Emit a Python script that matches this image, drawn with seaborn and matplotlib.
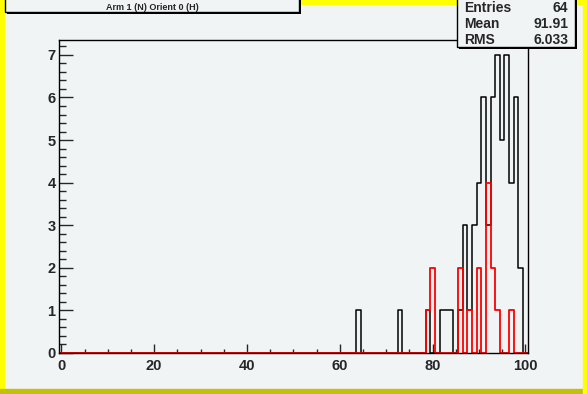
import numpy as np
import pandas as pd
import matplotlib
matplotlib.use("Agg")
import matplotlib.pyplot as plt
from matplotlib.patches import Rectangle
from matplotlib.ticker import MultipleLocator
import seaborn as sns

# bin contents (bins of width 1 centred on integers)
black_x = [64, 73, 79, 82, 83, 84, 86, 87, 88, 89, 90, 91, 92, 93, 94, 95, 96, 97, 98, 99]
black_n = [1, 1, 1, 1, 1, 1, 1, 3, 1, 3, 4, 6, 3, 6, 7, 5, 7, 4, 6, 2]
red_x = [79, 80, 86, 88, 90, 92, 93, 94, 97]
red_n = [1, 2, 2, 1, 2, 4, 2, 1, 1]

title = "Arm 1 (N) Orient 0 (H)"
stat_names = ["Entries", "Mean", "RMS"]
stat_vals = ["64", "91.91", "6.033"]
xticks = [0, 20, 40, 60, 80, 100]
yticks = [0, 1, 2, 3, 4, 5, 6, 7]

sns.set_style("ticks")
plt.rcParams["font.family"] = ["Liberation Sans", "DejaVu Sans"]
plt.rcParams["font.weight"] = "bold"

W, H = 587, 394
bg = "#f1f4f5"
fig = plt.figure(figsize=(W / 100, H / 100), dpi=100, facecolor=bg)


def fx(px):
    return px / W


def fy(py):
    return 1 - py / H


ax = fig.add_axes([fx(59), fy(353), fx(527.7) - fx(59), fy(40) - fy(353)])
ax.set_facecolor(bg)

blk = pd.DataFrame({"x": black_x, "n": black_n})
red = pd.DataFrame({"x": red_x, "n": red_n})
sns.histplot(data=blk, x="x", weights="n", binwidth=1, binrange=(-0.5, 100.5),
             element="step", fill=False, color="black", linewidth=1.1, ax=ax)
sns.histplot(data=red, x="x", weights="n", binwidth=1, binrange=(-0.5, 100.5),
             element="step", fill=False, color="#ff0000", linewidth=1.3, ax=ax)

ax.set_xlim(-0.5, 100.5)
ax.set_ylim(0, 7.35)
ax.set_xlabel("")
ax.set_ylabel("")
ax.set_xticks(xticks)
ax.set_yticks(yticks)
ax.xaxis.set_minor_locator(MultipleLocator(5))
ax.yaxis.set_minor_locator(MultipleLocator(0.2))
ax.tick_params(axis="x", which="major", direction="in", length=6.5, width=1, pad=4.5, labelsize=10.5)
ax.tick_params(axis="x", which="minor", direction="in", length=3, width=1)
ax.tick_params(axis="y", which="major", direction="in", length=10, width=1, pad=2.5, labelsize=10.5)
ax.tick_params(axis="y", which="minor", direction="in", length=5, width=1)
for lab in ax.get_xticklabels() + ax.get_yticklabels():
    lab.set_fontweight("bold")
for s in ax.spines.values():
    s.set_linewidth(1.0)
    s.set_color("black")

# canvas border
bw = 4
fig.patches.append(Rectangle((0, 1 - bw / H), 1, bw / H, transform=fig.transFigure,
                             color="#ffff00", zorder=0))
fig.patches.append(Rectangle((0, 0), bw / W, 1, transform=fig.transFigure,
                             color="#ffff00", zorder=0))
fig.patches.append(Rectangle((0, 0), 1, 5 / H, transform=fig.transFigure,
                             color="#c2c200", zorder=0))
fig.patches.append(Rectangle((1 - bw / W, 0), bw / W, 1, transform=fig.transFigure,
                             color="#ffff00", zorder=0))


def box(x0, y0, x1, y1):
    # shadow then box
    fig.patches.append(Rectangle((fx(x0 + 2), fy(y1 + 2)), fx(x1) - fx(x0), fy(y0) - fy(y1),
                                 transform=fig.transFigure, facecolor="black",
                                 edgecolor="none", zorder=5))
    fig.patches.append(Rectangle((fx(x0), fy(y1)), fx(x1) - fx(x0), fy(y0) - fy(y1),
                                 transform=fig.transFigure, facecolor=bg,
                                 edgecolor="black", linewidth=1.0, zorder=6))


box(5, -3, 299, 12)
fig.text(fx(152), fy(7), title, ha="center", va="center", fontsize=6.5,
         fontweight="bold", zorder=7)

box(457, -3, 575, 47)
for i, (nm, v) in enumerate(zip(stat_names, stat_vals)):
    yy = fy(8.5 + i * 16)
    fig.text(fx(464), yy, nm, ha="left", va="center", fontsize=10, fontweight="bold", zorder=7)
    fig.text(fx(568), yy, v, ha="right", va="center", fontsize=10, fontweight="bold", zorder=7)

fig.savefig("out.png", dpi=100, facecolor=bg)
